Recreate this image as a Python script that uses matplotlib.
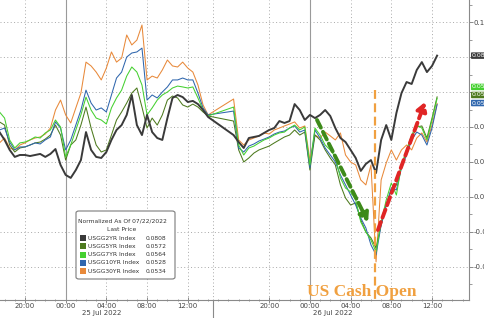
import matplotlib
matplotlib.use('Agg')
import matplotlib.pyplot as plt
import matplotlib.dates as mdates
from matplotlib.patches import FancyBboxPatch, Rectangle
from matplotlib.ticker import MultipleLocator, FuncFormatter
import pandas as pd

# two trading sessions, 30 min bars (gap in the afternoon of 25 Jul)
times_s1 = pd.date_range('2022-07-24 17:30', '2022-07-25 14:00', freq='30min')
times_s2 = pd.date_range('2022-07-25 16:30', '2022-07-26 12:30', freq='30min')
times = times_s1.append(times_s2)

usgg2yr = [0.0371, 0.0326, 0.0269, 0.0229, 0.0240, 0.0240, 0.0234, 0.0240, 0.0246, 0.0229,
           0.0246, 0.0274, 0.0183, 0.0126, 0.0109, 0.0154, 0.0211, 0.0371, 0.0269, 0.0229,
           0.0223, 0.0257, 0.0326, 0.0383, 0.0411, 0.0469, 0.0583, 0.0411, 0.0354, 0.0469,
           0.0371, 0.0337, 0.0326, 0.0451, 0.0566, 0.0583, 0.0571, 0.0543, 0.0549, 0.0531,
           0.0497, 0.0457,
           0.0354, 0.0314, 0.0280, 0.0337, 0.0343, 0.0349, 0.0366, 0.0383, 0.0394, 0.0434,
           0.0423, 0.0434, 0.0531, 0.0497, 0.0440, 0.0469, 0.0451, 0.0469, 0.0497, 0.0463,
           0.0394, 0.0337, 0.0314, 0.0269, 0.0223, 0.0149, 0.0189, 0.0211, 0.0137, 0.0326,
           0.0411, 0.0326, 0.0480, 0.0594, 0.0657, 0.0646, 0.0726, 0.0771, 0.0714, 0.0749,
           0.0808]

usgg5yr = [0.0429, 0.0411, 0.0297, 0.0257, 0.0280, 0.0286, 0.0297, 0.0309, 0.0314, 0.0331,
           0.0354, 0.0411, 0.0354, 0.0211, 0.0297, 0.0326, 0.0411, 0.0514, 0.0394, 0.0297,
           0.0257, 0.0269, 0.0354, 0.0440, 0.0486, 0.0537, 0.0594, 0.0623, 0.0514, 0.0394,
           0.0451, 0.0411, 0.0469, 0.0554, 0.0577, 0.0566, 0.0526, 0.0514, 0.0531, 0.0514,
           0.0486, 0.0463,
           0.0434, 0.0269, 0.0200, 0.0223, 0.0251, 0.0269, 0.0280, 0.0291, 0.0309, 0.0326,
           0.0343, 0.0354, 0.0383, 0.0354, 0.0371, 0.0154, 0.0354, 0.0326, 0.0269, 0.0223,
           0.0183, 0.0069, -0.0006, -0.0046, -0.0034, -0.0131, -0.0200, -0.0234, -0.0291, -0.0160,
           -0.0046, 0.0040, 0.0069, 0.0183, 0.0257, 0.0337, 0.0400, 0.0406, 0.0337, 0.0451,
           0.0572]

usgg7yr = [0.0486, 0.0451, 0.0326, 0.0280, 0.0309, 0.0314, 0.0326, 0.0343, 0.0337, 0.0366,
           0.0383, 0.0440, 0.0400, 0.0229, 0.0297, 0.0383, 0.0469, 0.0571, 0.0497, 0.0451,
           0.0440, 0.0417, 0.0509, 0.0566, 0.0611, 0.0691, 0.0743, 0.0714, 0.0640, 0.0469,
           0.0509, 0.0554, 0.0583, 0.0600, 0.0623, 0.0634, 0.0629, 0.0623, 0.0629, 0.0566,
           0.0497, 0.0463,
           0.0514, 0.0297, 0.0240, 0.0280, 0.0291, 0.0309, 0.0326, 0.0337, 0.0354, 0.0366,
           0.0371, 0.0394, 0.0411, 0.0383, 0.0400, 0.0183, 0.0394, 0.0354, 0.0297, 0.0269,
           0.0229, 0.0109, 0.0051, 0.0029, -0.0017, -0.0143, -0.0200, -0.0246, -0.0314, -0.0143,
           -0.0017, 0.0080, 0.0011, 0.0183, 0.0269, 0.0354, 0.0411, 0.0394, 0.0326, 0.0440,
           0.0564]

usgg10yr = [0.0383, 0.0394, 0.0314, 0.0269, 0.0286, 0.0286, 0.0297, 0.0309, 0.0303, 0.0326,
            0.0343, 0.0429, 0.0394, 0.0269, 0.0326, 0.0411, 0.0497, 0.0611, 0.0537, 0.0497,
            0.0509, 0.0486, 0.0583, 0.0680, 0.0714, 0.0800, 0.0823, 0.0829, 0.0851, 0.0554,
            0.0583, 0.0566, 0.0600, 0.0629, 0.0669, 0.0669, 0.0680, 0.0669, 0.0669, 0.0594,
            0.0509, 0.0469,
            0.0491, 0.0280, 0.0257, 0.0291, 0.0303, 0.0320, 0.0331, 0.0343, 0.0360, 0.0371,
            0.0377, 0.0394, 0.0406, 0.0371, 0.0383, 0.0166, 0.0383, 0.0337, 0.0280, 0.0240,
            0.0200, 0.0126, 0.0069, 0.0011, -0.0046, -0.0120, -0.0177, -0.0274, -0.0331, -0.0160,
            -0.0046, 0.0051, 0.0040, 0.0166, 0.0240, 0.0326, 0.0371, 0.0354, 0.0297, 0.0394,
            0.0528]

usgg30yr = [0.0309, 0.0337, 0.0280, 0.0269, 0.0297, 0.0309, 0.0326, 0.0337, 0.0343, 0.0360,
            0.0394, 0.0497, 0.0554, 0.0469, 0.0423, 0.0509, 0.0594, 0.0771, 0.0749, 0.0714,
            0.0669, 0.0737, 0.0829, 0.0771, 0.0794, 0.0926, 0.0869, 0.0897, 0.0983, 0.0669,
            0.0691, 0.0680, 0.0726, 0.0783, 0.0749, 0.0743, 0.0771, 0.0737, 0.0714, 0.0640,
            0.0526, 0.0469,
            0.0560, 0.0326, 0.0297, 0.0326, 0.0337, 0.0349, 0.0366, 0.0360, 0.0383, 0.0394,
            0.0406, 0.0417, 0.0429, 0.0394, 0.0406, 0.0211, 0.0354, 0.0337, 0.0371, 0.0349,
            0.0326, 0.0366, 0.0240, 0.0200, 0.0183, 0.0097, 0.0069, 0.0183, -0.0371, 0.0097,
            0.0194, 0.0269, 0.0211, 0.0269, 0.0297, 0.0269, 0.0337, 0.0366, 0.0314, 0.0411,
            0.0534]

names = ['USGG2YR Index', 'USGG5YR Index', 'USGG7YR Index', 'USGG10YR Index', 'USGG30YR Index']
last_price = [0.0808, 0.0572, 0.0564, 0.0528, 0.0534]
colors = ['#3a3a3a', '#4d7a1e', '#45d030', '#2f66ad', '#e8893a']
series = [usgg2yr, usgg5yr, usgg7yr, usgg10yr, usgg30yr]

cash_open = pd.Timestamp('2022-07-26 06:25')

W, H = 485, 318
fig = plt.figure(figsize=(W / 100, H / 100), dpi=100)
fig.patch.set_facecolor('white')
ax = fig.add_axes([0, 18 / H, 469 / W, 300 / H])

# colored lines first, the 2yr on top
for i in [4, 1, 3, 2]:
    ax.plot(times, series[i], color=colors[i], lw=0.75, zorder=3)
ax.plot(times, usgg2yr, color=colors[0], lw=1.4, zorder=4)

ax.set_xlim(pd.Timestamp('2022-07-24 17:33'), pd.Timestamp('2022-07-26 15:38'))
ax.set_ylim(-0.0589, 0.1126)

for s in ['left', 'top']:
    ax.spines[s].set_visible(False)
for s in ['right', 'bottom']:
    ax.spines[s].set_color('#8a8a8a')
    ax.spines[s].set_linewidth(0.8)


# 0.08 and 0.06 sit under the last price tags
def ylab(v, p):
    v = round(v, 2) + 0.0
    if v in (0.06, 0.08):
        return ''
    return '%.2f' % v


ax.yaxis.tick_right()
ax.set_yticks([-0.04, -0.02, 0.0, 0.02, 0.04, 0.06, 0.08, 0.10])
ax.yaxis.set_major_formatter(FuncFormatter(ylab))
ax.yaxis.set_minor_locator(MultipleLocator(0.01))
ax.tick_params(axis='y', which='major', labelsize=5, colors='#8a8a8a', labelcolor='#444444',
               length=3, width=0.7, pad=0.5)
ax.tick_params(axis='y', which='minor', colors='#8a8a8a', length=2, width=0.6)

ax.xaxis.set_major_locator(mdates.HourLocator(byhour=[0, 4, 8, 12, 20]))
ax.xaxis.set_major_formatter(mdates.DateFormatter('%H:%M'))
ax.xaxis.set_minor_locator(mdates.HourLocator())
ax.tick_params(axis='x', which='major', labelsize=5, colors='#8a8a8a', labelcolor='#444444',
               direction='inout', length=4, width=0.7, pad=0.5)
ax.tick_params(axis='x', which='minor', colors='#8a8a8a', direction='inout', length=2, width=0.6)

# grid: dotted, solid at midnight
ax.grid(axis='y', which='major', linestyle=(0, (1, 2.5)), color='#a8a8a8', lw=0.7, zorder=1)
ax.grid(axis='x', which='major', linestyle=(0, (1, 2.5)), color='#a8a8a8', lw=0.7, zorder=1)
for d in ['2022-07-25 00:00', '2022-07-26 00:00']:
    ax.axvline(pd.Timestamp(d), color='#9a9a9a', lw=0.8, zorder=2)
session_break = pd.Timestamp('2022-07-25 14:30')
ax.axvline(session_break, color='#a8a8a8', lw=0.7, linestyle=(0, (1, 2.5)), zorder=1)
ax.plot([session_break, session_break], [0, -0.07], transform=ax.get_xaxis_transform(),
        color='#8a8a8a', lw=0.8, clip_on=False)

ax.text(pd.Timestamp('2022-07-25 03:34'), -0.043, '25 Jul 2022', transform=ax.get_xaxis_transform(),
        ha='center', va='center', fontsize=5, color='#444444')
ax.text(pd.Timestamp('2022-07-26 02:16'), -0.043, '26 Jul 2022', transform=ax.get_xaxis_transform(),
        ha='center', va='center', fontsize=5, color='#444444')

# US cash open marker
ax.plot([cash_open, cash_open], [0.061, -0.0589], color='#f0a040', lw=1.6,
        linestyle=(0, (4, 2)), zorder=5)
ax.text(pd.Timestamp('2022-07-26 05:07'), -0.0545, 'US Cash Open', ha='center', va='center',
        fontsize=12.5, family='Liberation Serif', fontweight='bold', color='#f0a040', zorder=6)

# trend arrows
green_start, green_end = (pd.Timestamp('2022-07-26 00:42'), 0.044), (pd.Timestamp('2022-07-26 05:43'), -0.0143)
red_start, red_end = (pd.Timestamp('2022-07-26 06:41'), -0.0189), (pd.Timestamp('2022-07-26 11:19'), 0.0543)
for (s0, s1), c in [((green_start, green_end), '#3d8a1a'), ((red_start, red_end), '#e02525')]:
    ax.annotate('', xy=s1, xytext=s0,
                arrowprops=dict(arrowstyle='-|>,head_length=0.5,head_width=0.3', color=c, lw=2.8,
                                linestyle=(0, (2.2, 1.2)), shrinkA=0, shrinkB=0), zorder=6)

# last price tags on the right axis (30yr tag sits hidden behind the 10yr one)
tag_pos = [0.0808, 0.0583, 0.0629, 0.0537]
for i in [3, 1, 2, 0]:
    ax.annotate('%.4f' % last_price[i], xy=(1, tag_pos[i]), xycoords=ax.get_yaxis_transform(),
                xytext=(2, 0), textcoords='offset points', ha='left', va='center', fontsize=4.5,
                color='white', annotation_clip=False,
                bbox=dict(boxstyle='round,pad=0.12', fc=colors[i], ec='none'), zorder=7)


# legend box
def fx(x):
    return x / W


def fy(y):
    return 1 - y / H


fig.add_artist(FancyBboxPatch((fx(76), fy(279)), fx(175) - fx(76), fy(211) - fy(279),
                              boxstyle='round,pad=0,rounding_size=0.006', transform=fig.transFigure,
                              fc='white', ec='#7a7a7a', lw=0.8, zorder=8))
fig.text(fx(122), fy(221), 'Normalized As Of 07/22/2022', ha='center', va='center',
         fontsize=4.3, color='#333333', zorder=9)
fig.text(fx(122), fy(229.5), 'Last Price', ha='center', va='center', fontsize=4.3,
         color='#333333', zorder=9)
for i, (n, v) in enumerate(zip(names, last_price)):
    y = 238 + i * 8.3
    fig.add_artist(Rectangle((fx(80), fy(y + 3)), fx(6), 6 / H, transform=fig.transFigure,
                             fc=colors[i], ec='none', zorder=9))
    fig.text(fx(88), fy(y), n, ha='left', va='center', fontsize=4.3, color='#333333', zorder=9)
    fig.text(fx(146), fy(y), '%.4f' % v, ha='left', va='center', fontsize=4.3,
             color='#333333', zorder=9)

fig.savefig('out.png', dpi=100)
